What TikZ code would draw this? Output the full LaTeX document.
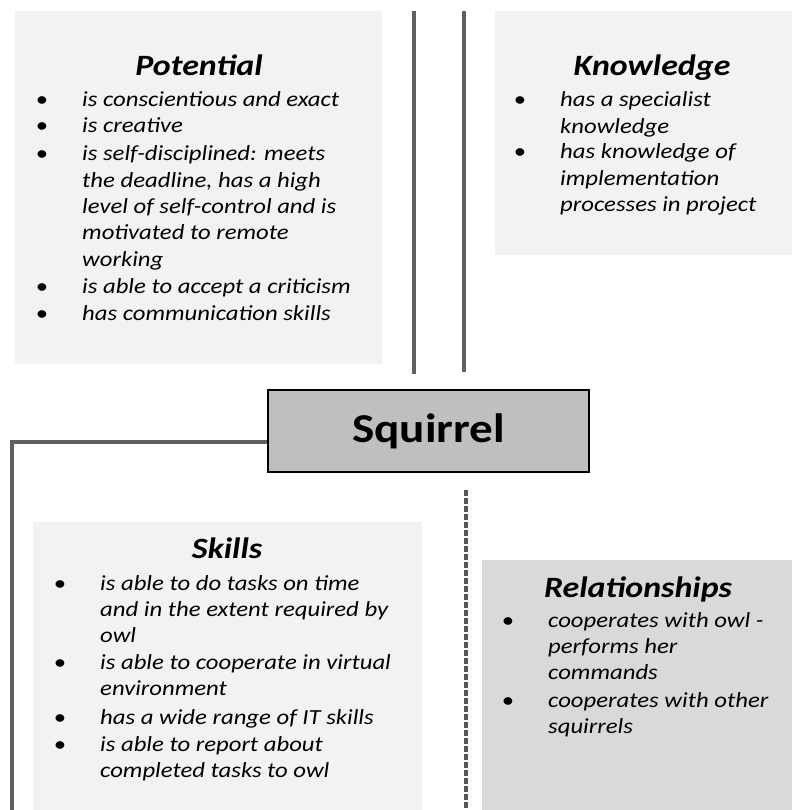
\documentclass[tikz,border=0pt]{standalone}
\usepackage{fontspec}
\setmainfont{Carlito}[FakeStretch=1.15]
\definecolor{boxlight}{HTML}{F2F2F2}
\definecolor{boxmid}{HTML}{D9D9D9}
\definecolor{sqfill}{HTML}{BFBFBF}
\definecolor{linegray}{HTML}{5F5F5F}
\newcommand{\itemlines}[1]{\begin{tabular}[t]{@{}l@{}}#1\end{tabular}}
\begin{document}
\begin{tikzpicture}[x=1pt,y=-1pt,
  panel/.style={draw=none,inner sep=0pt,anchor=north west},
  ttl/.style={font=\fontsize{29.5pt}{35pt}\selectfont\bfseries\itshape,anchor=base,inner sep=0pt},
  body/.style={font=\fontsize{21.5pt}{26.3pt}\selectfont\itshape,anchor=base west,inner sep=0pt},
  bul/.style={font=\fontsize{21.5pt}{26.3pt}\selectfont,anchor=base,inner sep=0pt},
  conn/.style={draw=linegray,line width=4pt},
  conn2/.style={draw=linegray,line width=3.3pt},
  dconn/.style={draw=linegray!90!black,line width=3.5pt,dash pattern=on 6pt off 2pt}]
\useasboundingbox (0,0) rectangle (792,810);
% panels
\node[panel,fill=boxlight,minimum width=367pt,minimum height=353pt] (pot) at (15,11) {};
\node[panel,fill=boxlight,minimum width=297pt,minimum height=244pt] (kno) at (495,11) {};
\node[panel,fill=boxlight,minimum width=389pt,minimum height=288pt] (ski) at (33,522) {};
\node[panel,fill=boxmid,minimum width=310pt,minimum height=250pt] (rel) at (482,560) {};
\node[draw=black,line width=2pt,fill=sqfill,minimum width=321pt,minimum height=82pt,inner sep=0pt,
  font=\fontsize{41pt}{48pt}\selectfont\bfseries] (sq) at (428.5,431) {Squirrel};
% connectors
\coordinate (ta1) at (414,11); \coordinate (tb1) at (414,374);
\coordinate (ta2) at (464,11); \coordinate (tb2) at (464,372);
\draw[conn] (ta1) -- (tb1);
\draw[conn] (ta2) -- (tb2);
\coordinate (lc) at (12,810);
\draw[conn2] ([yshift=-11pt]sq.west) -| (lc);
\coordinate (da) at (466,490); \coordinate (db) at (466,810);
\draw[dconn] (da) -- (db);
% Potential
\node[ttl] (potT) at (199,76) {Potential};
\node[bul] (pb1) at (42,107) {\textbullet};
\node[bul] (pb2) at (42,133) {\textbullet};
\node[bul] (pb3) at (42,161) {\textbullet};
\node[bul] (pb4) at (42,293) {\textbullet};
\node[bul] (pb5) at (42,320) {\textbullet};
\node[body] (pi1) at (82,107) {is conscientious and exact};
\node[body] (pi2) at (82,133) {is creative};
\node[body] (pi3) at (82,161) {\itemlines{is self-disciplined: meets\\the deadline, has a high\\level of self-control and is\\motivated to remote\\working}};
\node[body] (pi4) at (82,293) {is able to accept a criticism};
\node[body] (pi5) at (82,320) {has communication skills};
% Knowledge
\node[ttl] (knoT) at (652,76) {Knowledge};
\node[bul] (kb1) at (520,107) {\textbullet};
\node[bul] (kb2) at (520,159) {\textbullet};
\node[body] (ki1) at (560,107) {\itemlines{has a specialist\\knowledge}};
\node[body] (ki2) at (560,159) {\itemlines{has knowledge of\\implementation\\processes in project}};
% Skills
\node[ttl] (skiT) at (227,558) {Skills};
\node[bul] (sb1) at (60,590) {\textbullet};
\node[bul] (sb2) at (60,669) {\textbullet};
\node[bul] (sb3) at (60,724) {\textbullet};
\node[bul] (sb4) at (60,751) {\textbullet};
\node[body] (si1) at (100,590) {\itemlines{is able to do tasks on time\\and in the extent required by\\owl}};
\node[body] (si2) at (100,669) {\itemlines{is able to cooperate in virtual\\environment}};
\node[body] (si3) at (100,724) {has a wide range of IT skills};
\node[body] (si4) at (100,751) {\itemlines{is able to report about\\completed tasks to owl}};
% Relationships
\node[ttl] (relT) at (638,597) {Relationships};
\node[bul] (rb1) at (508,627) {\textbullet};
\node[bul] (rb2) at (508,707) {\textbullet};
\node[body] (ri1) at (548,627) {\itemlines{cooperates with owl -\\performs her\\commands}};
\node[body] (ri2) at (548,707) {\itemlines{cooperates with other\\squirrels}};
\end{tikzpicture}
\end{document}
